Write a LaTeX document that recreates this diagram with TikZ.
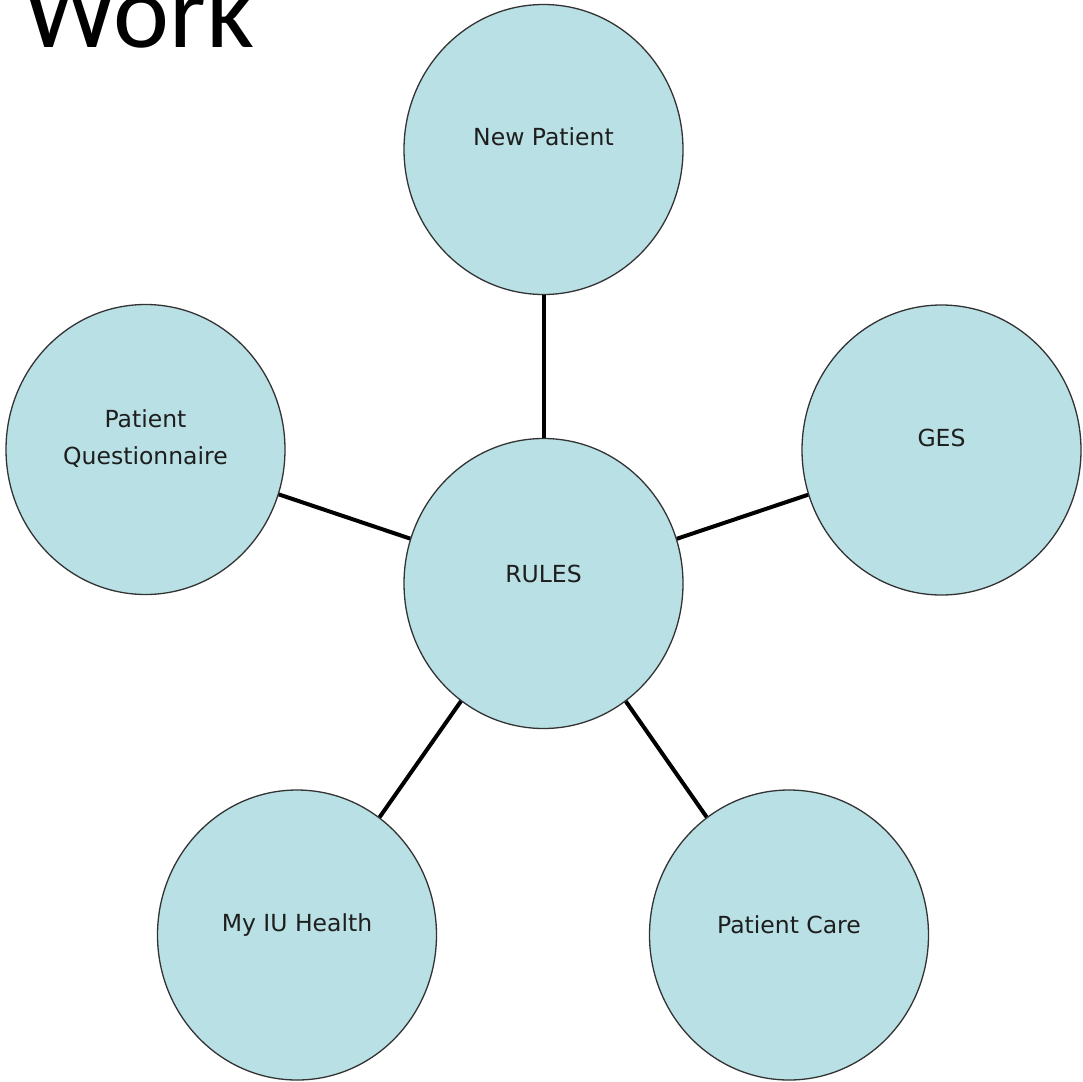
\documentclass[tikz,border=0pt]{standalone}
\usepackage{fontspec}
\setmainfont{DejaVu Sans}
\newfontfamily\titlefont{Carlito}
\usetikzlibrary{shapes.geometric}
\definecolor{bubble}{RGB}{185,224,228}
\definecolor{labeltext}{RGB}{30,30,30}
\tikzset{
  bubble/.style={ellipse, draw=black!80, line width=1.3pt, fill=bubble,
    minimum width=279pt, minimum height=290pt, inner sep=0pt},
  blabel/.style={font=\fontsize{23.5}{37}\selectfont, text=labeltext, align=center},
  link/.style={line width=4pt, black}
}
\begin{document}
\begin{tikzpicture}[x=1pt,y=-1pt]
\useasboundingbox (0,0) rectangle (1083,1081);
\node[anchor=base west, inner sep=0pt, font=\titlefont\fontsize{106}{106}\selectfont] (title) at (23,48) {Work};

\node[bubble] (rules) at (543.5,583.5) {};
\node[bubble] (np) at (543.5,149.5) {};
\node[bubble] (pq) at (145.5,449.5) {};
\node[bubble] (ges) at (941.5,450) {};
\node[bubble] (myiu) at (297,935) {};
\node[bubble] (pc) at (789,935) {};

\draw[link] (rules) -- (np);
\draw[link] (rules) -- (pq);
\draw[link] (rules) -- (ges);
\draw[link] (rules) -- (myiu);
\draw[link] (rules) -- (pc);

\node[blabel] (lrules) at ([yshift=10pt]rules.center) {RULES};
\node[blabel] (lnp) at ([yshift=13pt]np.center) {New Patient};
\node[blabel] (lpq) at ([yshift=11pt]pq.center) {Patient\\Questionnaire};
\node[blabel] (lges) at ([yshift=12pt]ges.center) {GES};
\node[blabel] (lmyiu) at ([yshift=10pt]myiu.center) {My IU Health};
\node[blabel] (lpc) at ([yshift=10pt]pc.center) {Patient Care};
\end{tikzpicture}
\end{document}
